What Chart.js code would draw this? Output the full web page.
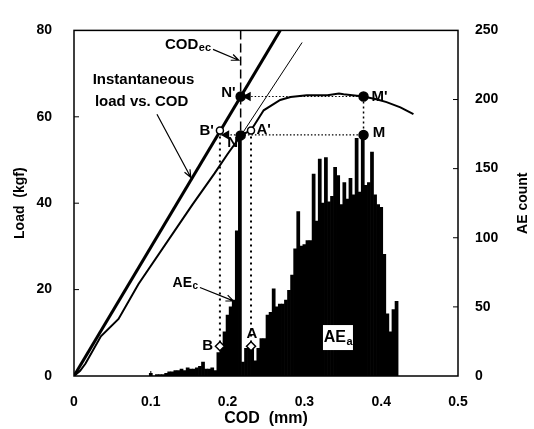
<!DOCTYPE html>
<html>
<head>
<meta charset="utf-8">
<script src="https://cdn.jsdelivr.net/npm/chart.js@4.4.0/dist/chart.umd.min.js"></script>
<style>
  html, body { margin: 0; padding: 0; background: #fff; }
</style>
</head>
<body>
<canvas id="codChart" width="534" height="429"></canvas>
<script>
// AE count histogram (right axis)
const aeCod = [0.100,0.104,0.108,0.112,0.116,0.120,0.124,0.128,0.132,0.136,0.140,0.144,0.148,0.152,0.156,0.160,0.164,0.168,0.172,0.176,
  0.180,0.184,0.188,0.192,0.196,0.200,0.204,0.208,0.212,0.216,0.220,0.224,0.228,0.232,0.236,0.240,0.244,0.248,0.252,0.256,
  0.260,0.264,0.268,0.272,0.276,0.280,0.284,0.288,0.292,0.296,0.300,0.304,0.308,0.312,0.316,0.320,0.324,0.328,0.332,0.336,
  0.340,0.344,0.348,0.352,0.356,0.360,0.364,0.368,0.372,0.376,0.380,0.384,0.388,0.392,0.396,0.400,0.404,0.408,0.412,0.416,0.420];
const aeCount = [2,0,1,1,1,2,3,3,4,4,5,4,6,5,5,6,7,10,5,5,
  6,4,17,22,32,44,50,55,105,174,10,20,22,22,11,20,27,27,44,46,
  63,50,52,52,55,62,73,92,119,94,95,98,98,146,112,157,125,158,126,130,
  151,145,124,140,128,143,131,172,133,174,138,140,162,131,124,122,88,45,32,48,54];

// load vs COD curve (left axis)
const loadCod = [0,0.008,0.015,0.035,0.058,0.084,0.154,0.183,0.200,0.2175,0.2305,0.247,0.2685,0.282,0.303,0.330,0.345,0.351,0.377,0.395,0.407,0.425,0.442];
const loadKgf = [0,1.2,2.9,9.2,13.2,21.3,39.6,46.9,51.4,55.7,56.9,61.5,63.9,64.6,65.0,65.0,65.4,65.2,64.7,64.0,63.4,62.2,60.6];

// instantaneous load vs COD and tangent line
const instCod = [0, 0.2685];
const instLoad = [0, 80];
const tanCod = [0.2175, 0.297];
const tanLoad = [55.7, 77.2];

// COD_ec and guide lines
const codEc = 0.217;
const loadN1 = 64.7;   // N', M'
const loadN = 55.8;    // N, M
const codM = 0.377;
const codB = 0.19;
const codA = 0.2305;
const loadBA1 = 56.8;  // B', A'
const loadBA = 6.9;    // B, A

// markers
const fillCod = [codEc, codEc, codM, codM];
const fillLoad = [loadN1, 55.7, loadN1, loadN];
const openCod = [codB, codA];
const openLoad = [loadBA1, loadBA1];
const diaCod = [codB, codA];
const diaLoad = [loadBA, loadBA];
const headCod = [0.2265, 0.1985];
const headLoad = [loadN1, loadN];

// tick values
const xTicks = [0, 0.1, 0.2, 0.3, 0.4, 0.5];
const loadTicks = [0, 20, 40, 60, 80];
const countTicks = [0, 50, 100, 150, 200, 250];

// text notes (data coords)
const noteText = ['Instantaneous', 'load vs. COD', "N'", "B'", 'N', "A'", "M'", 'M', 'B', 'A'];
const noteCod = [0.0905, 0.088, 0.2105, 0.182, 0.2135, 0.2375, 0.3875, 0.389, 0.181, 0.2315];
const noteLoad = [68.5, 63.5, 65.5, 56.7, 54.0, 56.9, 64.7, 56.2, 7.0, 9.7];
const noteAlign = ['center', 'center', 'right', 'right', 'right', 'left', 'left', 'left', 'right', 'center'];

// annotation arrows [cod1, load1, cod2, load2]
const arrows = [
  [0.181, 75.6, 0.2145, 73.1],
  [0.108, 60.6, 0.152, 46.0],
  [0.164, 20.5, 0.2075, 17.4]
];

const FONT = "'Liberation Sans', Arial, sans-serif";

function pts(xs, ys) { return xs.map((v, i) => ({ x: v, y: ys[i] })); }

function lineSet(xs, ys, width, dash, order) {
  return { type: 'line', data: pts(xs, ys), borderColor: '#000', borderWidth: width,
    borderDash: dash || [], pointRadius: 0, fill: false, tension: 0, yAxisID: 'y', order: order };
}

function markSet(xs, ys, style, r, fillCol, rot) {
  return { type: 'line', data: pts(xs, ys), showLine: false, pointStyle: style, pointRadius: r,
    pointRotation: rot || 0, pointBackgroundColor: fillCol, pointBorderColor: '#000',
    pointBorderWidth: 1.5, yAxisID: 'y', order: 0 };
}

function subText(ctx, main, sub, x, y, size, align) {
  ctx.font = 'bold ' + size + 'px ' + FONT;
  const w1 = ctx.measureText(main).width;
  ctx.font = 'bold ' + Math.round(size * 0.7) + 'px ' + FONT;
  const w2 = ctx.measureText(sub).width;
  let x0 = x;
  if (align === 'center') x0 = x - (w1 + w2) / 2;
  ctx.textAlign = 'left';
  ctx.textBaseline = 'middle';
  ctx.font = 'bold ' + size + 'px ' + FONT;
  ctx.fillText(main, x0, y);
  ctx.font = 'bold ' + Math.round(size * 0.7) + 'px ' + FONT;
  ctx.fillText(sub, x0 + w1 + 0.5, y + size * 0.25);
}

const decor = {
  id: 'decor',
  afterDatasetsDraw(chart) {
    const { ctx, chartArea: a, scales } = chart;
    const px = v => scales.x.getPixelForValue(v);
    const py = v => scales.y.getPixelForValue(v);
    const py2 = v => scales.y2.getPixelForValue(v);
    ctx.save();

    // AEa label box
    const bx = px(0.3437), by = py(8.9);
    ctx.fillStyle = '#fff';
    ctx.fillRect(bx - 15, by - 12.5, 30, 25);
    ctx.fillStyle = '#000';
    subText(ctx, 'AE', 'a', bx, by, 16, 'center');

    // frame
    ctx.strokeStyle = '#000';
    ctx.lineWidth = 1.5;
    ctx.strokeRect(a.left, a.top, a.right - a.left, a.bottom - a.top);

    // inward ticks
    ctx.lineWidth = 1;
    ctx.beginPath();
    xTicks.slice(1, -1).forEach(v => { ctx.moveTo(px(v), a.bottom); ctx.lineTo(px(v), a.bottom - 5); });
    loadTicks.slice(1, -1).forEach(v => { ctx.moveTo(a.left, py(v)); ctx.lineTo(a.left + 5, py(v)); });
    countTicks.slice(1, -1).forEach(v => { ctx.moveTo(a.right, py2(v)); ctx.lineTo(a.right - 5, py2(v)); });
    ctx.stroke();

    // notes
    ctx.fillStyle = '#000';
    ctx.textBaseline = 'middle';
    noteText.forEach((t, i) => {
      ctx.font = 'bold 15px ' + FONT;
      ctx.textAlign = noteAlign[i];
      ctx.fillText(t, px(noteCod[i]), py(noteLoad[i]));
    });
    subText(ctx, 'COD', 'ec', px(0.1185), py(76.7), 15, 'left');
    subText(ctx, 'AE', 'c', px(0.1284), py(21.6), 14, 'left');

    // arrows with open heads
    ctx.lineWidth = 1.2;
    arrows.forEach(ar => {
      const x1 = px(ar[0]), y1 = py(ar[1]), x2 = px(ar[2]), y2 = py(ar[3]);
      const ang = Math.atan2(y2 - y1, x2 - x1);
      ctx.beginPath();
      ctx.moveTo(x1, y1); ctx.lineTo(x2, y2);
      ctx.moveTo(x2 - 8 * Math.cos(ang - 0.4), y2 - 8 * Math.sin(ang - 0.4));
      ctx.lineTo(x2, y2);
      ctx.lineTo(x2 - 8 * Math.cos(ang + 0.4), y2 - 8 * Math.sin(ang + 0.4));
      ctx.stroke();
    });

    // right axis title (reads bottom to top)
    ctx.translate(523, (a.top + a.bottom) / 2);
    ctx.rotate(-Math.PI / 2);
    ctx.textAlign = 'center';
    ctx.font = 'bold 14px ' + FONT;
    ctx.fillText('AE count', 0, 0);
    ctx.restore();
  }
};

const tickFont = { family: FONT, size: 14, weight: 'bold' };

new Chart(document.getElementById('codChart'), {
  type: 'line',
  data: {
    datasets: [
      markSet(fillCod, fillLoad, 'circle', 4.5, '#000'),
      markSet(openCod, openLoad, 'circle', 3.5, '#fff'),
      markSet(diaCod, diaLoad, 'rectRot', 4.5, '#fff'),
      markSet(headCod, headLoad, 'triangle', 4, '#000', 270),
      lineSet(instCod, instLoad, 3, null, 1),
      lineSet(loadCod, loadKgf, 2, null, 1),
      lineSet(tanCod, tanLoad, 1, null, 1),
      lineSet([codEc, codEc], [80, 55.7], 1.5, [9, 4], 2),
      lineSet([codEc, codM], [loadN1, loadN1], 1.2, [1.5, 2], 2),
      lineSet([codB, codM], [loadN, loadN], 1.2, [1.5, 2], 2),
      lineSet([codM, codM], [loadN1, loadN], 1.5, [2, 3], 2),
      lineSet([codB, codB], [loadBA1, loadBA], 2, [2, 4], 2),
      lineSet([codA, codA], [loadBA1, loadBA], 2, [2, 4], 2),
      {
        type: 'bar', data: pts(aeCod, aeCount), yAxisID: 'y2', backgroundColor: '#000',
        borderWidth: 0, barPercentage: 1, categoryPercentage: 1, grouped: false, order: 10
      }
    ]
  },
  options: {
    responsive: false,
    animation: false,
    events: [],
    layout: { padding: { top: 13, left: 0, right: 0, bottom: 0 } },
    plugins: { legend: { display: false }, tooltip: { enabled: false } },
    scales: {
      x: {
        type: 'linear', min: 0, max: 0.5, offset: false,
        afterBuildTicks: s => { s.ticks = xTicks.map(v => ({ value: v })); },
        afterFit: s => { s.height = 53; },
        grid: { display: false, drawTicks: false }, border: { display: false },
        ticks: { font: tickFont, color: '#000', padding: 18, maxRotation: 0, callback: v => String(v) },
        title: { display: true, text: 'COD  (mm)', color: '#000', font: { family: FONT, size: 16, weight: 'bold' }, padding: { top: 0, bottom: 1 } }
      },
      y: {
        type: 'linear', position: 'left', min: 0, max: 80,
        afterBuildTicks: s => { s.ticks = loadTicks.map(v => ({ value: v })); },
        afterFit: s => { s.width = 74; },
        grid: { display: false, drawTicks: false }, border: { display: false },
        ticks: { font: tickFont, color: '#000', padding: 22 },
        title: { display: true, text: 'Load  (kgf)', color: '#000', font: { family: FONT, size: 14, weight: 'bold' }, padding: { top: 12, bottom: 0 } }
      },
      y2: {
        type: 'linear', position: 'right', min: 0, max: 250,
        afterBuildTicks: s => { s.ticks = countTicks.map(v => ({ value: v })); },
        afterFit: s => { s.width = 76; },
        grid: { display: false, drawTicks: false }, border: { display: false },
        ticks: { font: tickFont, color: '#000', padding: 17 }
      }
    }
  },
  plugins: [decor]
});
</script>
</body>
</html>
